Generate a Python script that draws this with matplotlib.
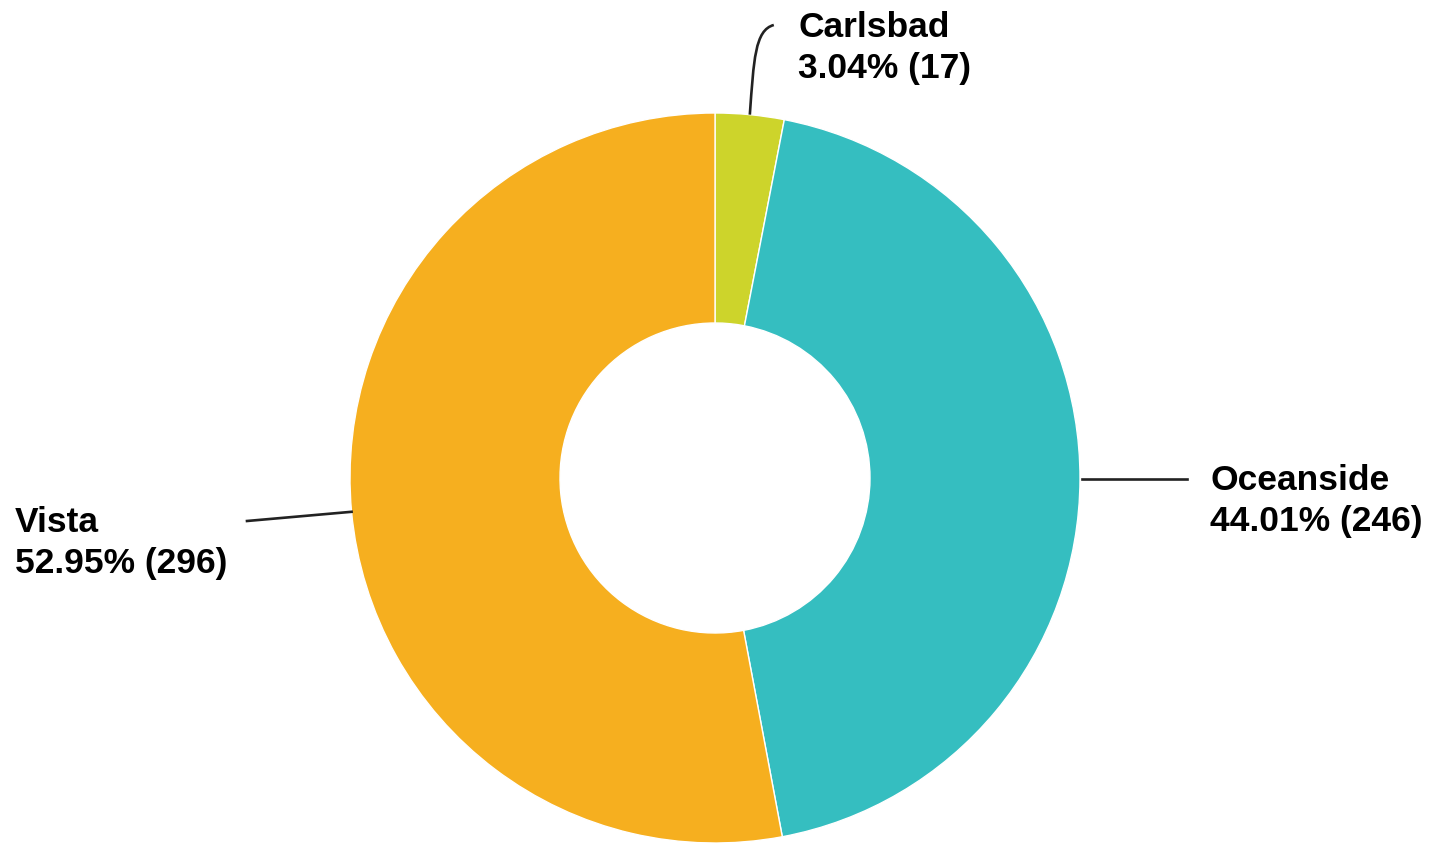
import matplotlib
matplotlib.use("Agg")
import matplotlib.pyplot as plt
import numpy as np
from matplotlib.path import Path
from matplotlib.patches import PathPatch

plt.rcParams["font.family"] = ["Liberation Sans", "DejaVu Sans"]

cities = ["Carlsbad", "Oceanside", "Vista"]
counts = [17, 246, 296]
colors = ["#CDD42B", "#35BEC0", "#F6AF1F"]

W, H = 1431, 843
fig = plt.figure(figsize=(W / 100, H / 100), dpi=100)
ax = fig.add_axes([0, 0, 1, 1])

cx, cy = 715, H - 478
r_out, r_in = 365, 155
wedges, _ = ax.pie(counts, colors=colors, startangle=90, counterclock=False,
                   center=(cx, cy), radius=r_out,
                   wedgeprops=dict(width=r_out - r_in, edgecolor="white", linewidth=1))
ax.set_xlim(0, W)
ax.set_ylim(0, H)
ax.set_aspect("equal")
ax.axis("off")

total = sum(counts)
labels = [f"{c}\n{n / total * 100:.2f}% ({n})" for c, n in zip(cities, counts)]

# leader start points at each wedge's mid angle on the outer edge
def edge_point(w):
    a = np.deg2rad((w.theta1 + w.theta2) / 2)
    return cx + r_out * np.cos(a), cy + r_out * np.sin(a)

line_kw = dict(color="#222222", lw=1.9)
text_kw = dict(fontsize=25.5, fontweight="bold", color="black",
               va="center", ha="left", linespacing=1.3)

# Carlsbad: curved leader going up
x0, y0 = edge_point(wedges[0])
verts = [(x0, y0), (x0 + 4, H - 60), (x0 + 5, H - 30), (x0 + 24, H - 25)]
path = Path(verts, [Path.MOVETO, Path.CURVE4, Path.CURVE4, Path.CURVE4])
ax.add_patch(PathPatch(path, fill=False, **line_kw))
ax.text(798, H - 48, labels[0], **text_kw)

# Oceanside: horizontal leader to the right
x0, y0 = edge_point(wedges[1])
ax.plot([x0 + 2, 1187], [y0, y0], **line_kw)
ax.text(1210, H - 501, labels[1], **text_kw)

# Vista: leader to the left
x0, y0 = edge_point(wedges[2])
ax.plot([x0, 247], [y0, H - 521], **line_kw)
ax.text(15, H - 543, labels[2], **text_kw)

fig.savefig("out.png", dpi=100)
